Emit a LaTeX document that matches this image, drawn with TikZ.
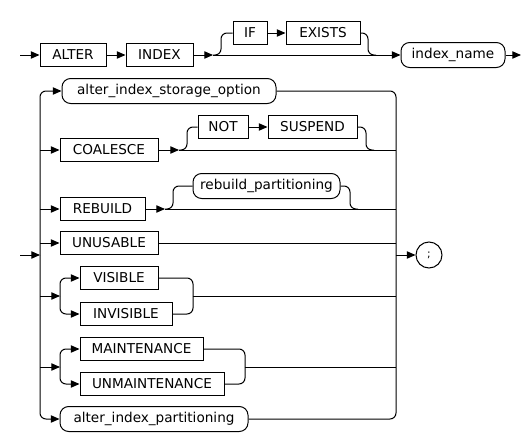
\documentclass[tikz,border=0pt]{standalone}
\usepackage{fontspec}
\setmainfont{DejaVu Sans}
\usetikzlibrary{arrows.meta}
\begin{document}
\begin{tikzpicture}[x=0.75pt,y=-0.75pt,
  line width=0.75pt,
  font=\fontsize{10.2}{12}\selectfont,
  kw/.style={draw, rectangle, inner sep=0pt, minimum height=23*0.75pt, minimum width=#1*0.75pt},
  term/.style={draw, rectangle, rounded corners=6.5pt, inner sep=0pt, minimum height=25*0.75pt, minimum width=#1*0.75pt},
  arr/.style={-{Triangle[length=6.5pt,width=5.5pt]}},
  conn/.style={rounded corners=4.5pt}]
\useasboundingbox (0,0) rectangle (526,443);

% ---- first row ----
\coordinate (s1) at (20,55);
\node[kw=66] (alter) at (73,55) {ALTER};
\node[kw=67] (index) at (159.5,55) {INDEX};
\coordinate (b1) at (213,55);
\node[kw=34] (if) at (250,33) {IF};
\node[kw=74] (exists) at (323,33) {EXISTS};
\node[term=104] (iname) at (453,55) {index\_name};
\coordinate (e1) at (521,55);

\draw[arr] (s1) -- (alter.west);
\draw[arr] (alter.east) -- (index.west);
\draw[arr] (index.east) -- (b1);
\draw[arr] (b1) -- (iname.west);
\draw[conn] (b1) -| (221,33) -- (if.west);
\draw[arr] (if.east) -- (exists.west);
\draw[conn] (exists.east) -| (368,55) -- (376,55);
\draw[arr] (iname.east) -- (e1);

% ---- choice block ----
\coordinate (s2) at (20,255);
\coordinate (lb) at (40,255);
\coordinate (rb) at (396,255);
\node[draw, circle, inner sep=0pt, minimum size=26*0.75pt, font=\fontsize{8}{9}\selectfont] (semi) at (429,255) {;};

\node[term=214] (storage) at (169,91) {alter\_index\_storage\_option};

\coordinate (l2) at (40,150);
\node[kw=98] (coalesce) at (109,150) {COALESCE};
\coordinate (b2) at (179,150);
\node[kw=50] (not) at (223,127) {NOT};
\node[kw=89] (suspend) at (312.5,127) {SUSPEND};
\coordinate (r2) at (396,150);

\coordinate (l3) at (40,209);
\node[kw=85] (rebuild) at (102.5,209) {REBUILD};
\coordinate (b3) at (165,209);
\node[term=147] (rpart) at (266.5,186) {rebuild\_partitioning};
\coordinate (r3) at (396,209);

\coordinate (l4) at (40,243);
\node[kw=98] (unusable) at (109,243) {UNUSABLE};
\coordinate (r4) at (396,243);

\coordinate (l5) at (40,296);
\coordinate (b5) at (60,296);
\node[kw=78] (visible) at (119,278) {VISIBLE};
\node[kw=92] (invisible) at (126,314) {INVISIBLE};
\coordinate (m5) at (193,296);
\coordinate (r5) at (396,296);

\coordinate (l6) at (40,367);
\coordinate (b6) at (60,367);
\node[kw=123] (maint) at (141.5,349) {MAINTENANCE};
\node[kw=144] (unmaint) at (152,384) {UNMAINTENANCE};
\coordinate (m6) at (245,367);
\coordinate (r6) at (396,367);

\node[term=188] (apart) at (154,419) {alter\_index\_partitioning};

% left bus
\draw[arr] (s2) -- (lb);
\draw[arr,conn] (lb) |- (storage.west);
\draw[arr,conn] (lb) |- (apart.west);
\draw[arr] (l2) -- (coalesce.west);
\draw[arr] (l3) -- (rebuild.west);
\draw[arr] (l4) -- (unusable.west);
\draw[arr] (l5) -- (b5);
\draw[arr] (l6) -- (b6);

% right bus
\draw[conn] (storage.east) -| (rb);
\draw[conn] (apart.east) -| (rb);
\draw[arr] (rb) -- (semi.west);

% COALESCE row
\draw[arr] (coalesce.east) -- (b2);
\draw (b2) -- (r2);
\draw[conn] (b2) -| (187,127) -- (not.west);
\draw[arr] (not.east) -- (suspend.west);
\draw[conn] (suspend.east) -| (366,150) -- (374,150);

% REBUILD row
\draw[arr] (rebuild.east) -- (b3);
\draw (b3) -- (r3);
\draw[conn] (b3) -| (173,186) -- (rpart.west);
\draw[conn] (rpart.east) -| (350,209) -- (358,209);

% UNUSABLE row
\draw (unusable.east) -- (r4);

% VISIBLE group
\draw[arr,conn] (b5) |- (visible.west);
\draw[arr,conn] (b5) |- (invisible.west);
\draw[conn] (visible.east) -| (m5);
\draw[conn] (invisible.east) -| (m5);
\draw (m5) -- (r5);

% MAINTENANCE group
\draw[arr,conn] (b6) |- (maint.west);
\draw[arr,conn] (b6) |- (unmaint.west);
\draw[conn] (maint.east) -| (m6);
\draw[conn] (unmaint.east) -| (m6);
\draw (m6) -- (r6);
\end{tikzpicture}
\end{document}
